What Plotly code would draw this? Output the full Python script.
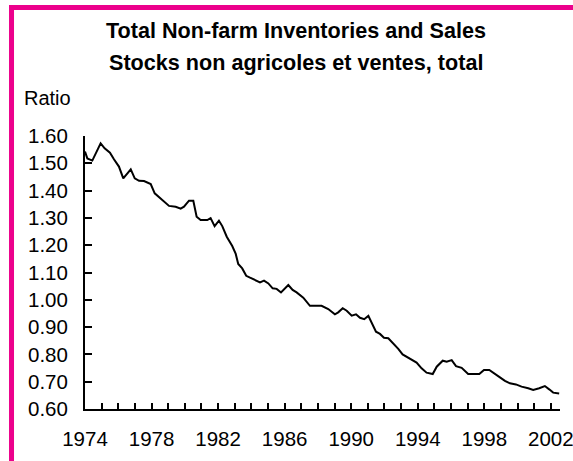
import plotly.graph_objects as go

years = [1974.0, 1974.14, 1974.44, 1974.94, 1975.18, 1975.50, 1975.74, 1976.04, 1976.30, 1976.75,
         1976.99, 1977.25, 1977.55, 1977.95, 1978.19, 1978.55, 1979.05, 1979.45, 1979.75, 1979.95,
         1980.25, 1980.51, 1980.71, 1980.95, 1981.35, 1981.55, 1981.79, 1982.05, 1982.25, 1982.52,
         1982.85, 1983.06, 1983.21, 1983.45, 1983.69, 1983.92, 1984.22, 1984.52, 1984.76, 1985.02,
         1985.28, 1985.52, 1985.78, 1986.22, 1986.48, 1986.72, 1987.12, 1987.52, 1988.22, 1988.62,
         1989.02, 1989.22, 1989.49, 1989.73, 1990.03, 1990.29, 1990.53, 1990.78, 1991.03, 1991.49,
         1991.73, 1991.97, 1992.23, 1992.53, 1992.83, 1993.09, 1993.43, 1993.93, 1994.23, 1994.53,
         1994.90, 1995.14, 1995.50, 1995.74, 1996.04, 1996.30, 1996.64, 1997.03, 1997.70, 1997.98,
         1998.30, 1998.64, 1998.94, 1999.24, 1999.54, 1999.90, 2000.24, 2000.64, 2000.94, 2001.30,
         2001.64, 2001.90, 2002.14, 2002.50]
ratio = [1.543, 1.518, 1.510, 1.573, 1.555, 1.539, 1.515, 1.488, 1.445, 1.478,
         1.445, 1.436, 1.435, 1.424, 1.390, 1.372, 1.344, 1.341, 1.334, 1.341,
         1.363, 1.363, 1.304, 1.292, 1.292, 1.299, 1.270, 1.290, 1.270, 1.231,
         1.197, 1.168, 1.131, 1.115, 1.088, 1.081, 1.073, 1.064, 1.070, 1.060,
         1.042, 1.040, 1.027, 1.054, 1.036, 1.027, 1.008, 0.978, 0.978, 0.966,
         0.947, 0.954, 0.969, 0.960, 0.942, 0.947, 0.934, 0.929, 0.941, 0.883,
         0.875, 0.861, 0.859, 0.841, 0.820, 0.800, 0.788, 0.770, 0.749, 0.733,
         0.728, 0.755, 0.777, 0.773, 0.779, 0.757, 0.751, 0.728, 0.728, 0.743,
         0.743, 0.727, 0.716, 0.703, 0.694, 0.690, 0.682, 0.676, 0.670, 0.676,
         0.684, 0.672, 0.660, 0.657]

tick_years = list(range(1974, 2003))
tick_labels = [str(y) if (y - 1974) % 4 == 0 else "" for y in tick_years]
y_ticks = [0.6, 0.7, 0.8, 0.9, 1.0, 1.1, 1.2, 1.3, 1.4, 1.5, 1.6]

title_1 = "Total Non-farm Inventories and Sales"
title_2 = "Stocks non agricoles et ventes, total"
y_title = "Ratio"

FONT = "Liberation Sans, Arial, sans-serif"
PINK = "#EC008C"

fig = go.Figure()
fig.add_trace(go.Scatter(x=years, y=ratio, mode="lines",
                         line=dict(color="black", width=2), showlegend=False,
                         hoverinfo="x+y"))

fig.update_layout(
    width=573, height=461,
    margin=dict(l=85, r=13, t=136, b=52),
    paper_bgcolor="white", plot_bgcolor="white",
    font=dict(family=FONT, size=20, color="black"),
    xaxis=dict(range=[1974, 2002.55], tickmode="array", tickvals=tick_years,
               ticktext=tick_labels, ticks="inside", ticklen=6, tickwidth=1.5,
               tickcolor="black", showline=True, linecolor="black", linewidth=2,
               showgrid=False, zeroline=False, ticklabelstandoff=10,
               ticklabeloverflow="allow", automargin=False,
               tickfont=dict(size=20.5)),
    yaxis=dict(range=[0.6, 1.6], tickmode="array", tickvals=y_ticks,
               tickformat=".2f", ticks="inside", ticklen=7, tickwidth=1.5,
               tickcolor="black", showline=True, linecolor="black", linewidth=2,
               showgrid=False, zeroline=False, ticklabelstandoff=11,
               automargin=False, tickfont=dict(size=20.5)),
    annotations=[
        dict(text="<b>" + title_1 + "</b>", xref="paper", yref="paper",
             x=0.444, y=1.388, xanchor="center", yanchor="middle",
             showarrow=False, font=dict(size=21.6)),
        dict(text="<b>" + title_2 + "</b>", xref="paper", yref="paper",
             x=0.444, y=1.27, xanchor="center", yanchor="middle",
             showarrow=False, font=dict(size=21.6)),
        dict(text=y_title, xref="paper", yref="paper",
             x=-0.1326, y=1.139, xanchor="left", yanchor="middle",
             showarrow=False, font=dict(size=20)),
    ],
    shapes=[
        dict(type="line", xref="paper", yref="paper", x0=-0.1547, x1=-0.1547,
             y0=1.4707, y1=-0.3, line=dict(color=PINK, width=5)),
        dict(type="line", xref="paper", yref="paper", x0=-0.16, x1=1.1,
             y0=1.4707, y1=1.4707, line=dict(color=PINK, width=5)),
    ],
)

fig.write_html("out.html", config={"displayModeBar": False},
               post_script="document.body.style.margin='0';")
